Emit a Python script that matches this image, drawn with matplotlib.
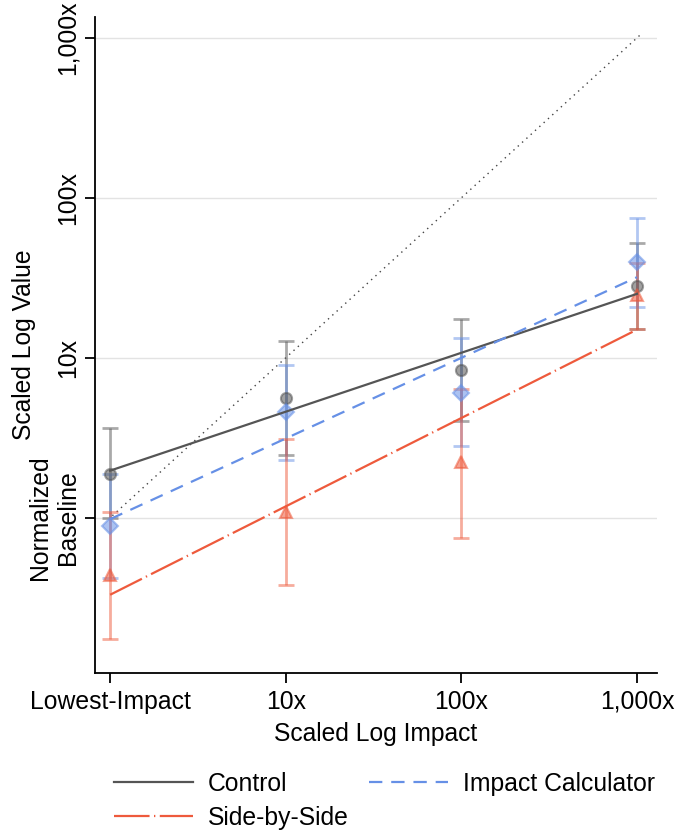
import matplotlib
matplotlib.use("Agg")
from matplotlib import pyplot as plt
import numpy as np

plt.rcParams['font.family'] = ['Liberation Sans', 'DejaVu Sans']

# x positions (scaled log impact)
impact_x = [1, 10, 100, 1000]
x_ticklabels = ['Lowest-Impact', '10x', '100x', '1,000x']

# y ticks
y_ticks = [1, 10, 100, 1000]
y_ticklabels = ['Normalized\nBaseline', '10x', '100x', '1,000x']

# group means and 95% intervals
control_mean = [1.88, 5.57, 8.33, 27.9]
control_lo = [0.99, 2.47, 4.0, 15.1]
control_hi = [3.65, 12.8, 17.6, 52.5]

calc_mean = [0.89, 4.55, 6.02, 39.6]
calc_lo = [0.42, 2.30, 2.79, 20.9]
calc_hi = [1.88, 8.95, 13.3, 74.7]

sbs_mean = [0.44, 1.09, 2.22, 24.8]
sbs_lo = [0.175, 0.381, 0.746, 15.1]
sbs_hi = [1.09, 3.10, 6.37, 39.1]

# fitted lines (endpoints at x=1 and x=1000)
fit_x = [1, 1000]
control_fit = [1.97, 25.1]
calc_fit = [0.98, 31.9]
sbs_fit = [0.33, 15.0]

# 45 degree reference line
ref_x = [1.03, 1070]
ref_y = [1.03, 1070]

c_gray = '#555555'
c_blue = '#6690E6'
c_red = '#EE5A3C'

fs = 17.8

fig = plt.figure(figsize=(6.75, 8.3), dpi=100)
ax = fig.add_axes([95 / 675, 1 - 673 / 830, (657 - 95) / 675, (673 - 17) / 830])
ax.set_xscale('log')
ax.set_yscale('log')

for yv in y_ticks:
    ax.axhline(yv, color='#e3e3e3', lw=1.0, zorder=0)

ax.plot(ref_x, ref_y, color='#444444', lw=1.0, linestyle=(0, (1, 3.2)), zorder=1)


def draw_group(mean, lo, hi, color, marker, ms):
    mean = np.array(mean)
    err = [mean - np.array(lo), np.array(hi) - mean]
    ax.errorbar(impact_x, mean, yerr=err, fmt='none', ecolor=color, alpha=0.5,
                elinewidth=2.0, capsize=6, capthick=2.0, zorder=2)
    ax.plot(impact_x, mean, linestyle='none', marker=marker, ms=ms,
            color=color, alpha=0.55, mew=1.5, zorder=3)


draw_group(control_mean, control_lo, control_hi, c_gray, 'o', 8)
draw_group(calc_mean, calc_lo, calc_hi, c_blue, 'D', 8.5)
draw_group(sbs_mean, sbs_lo, sbs_hi, c_red, '^', 9)

l_ctrl, = ax.plot(fit_x, control_fit, color=c_gray, lw=1.6, zorder=4, label='Control')
l_sbs, = ax.plot(fit_x, sbs_fit, color=c_red, lw=1.6, zorder=4, label='Side-by-Side',
                 dashes=(16, 2, 0.6, 2))
l_calc, = ax.plot(fit_x, calc_fit, color=c_blue, lw=1.6, zorder=4, label='Impact Calculator',
                  dashes=(6, 4))

ax.set_xlim(0.82, 1300)
ax.set_ylim(0.107, 1350)
ax.set_xticks(impact_x)
ax.set_xticklabels(x_ticklabels, fontsize=fs)
ax.set_yticks(y_ticks)
ax.set_yticklabels(y_ticklabels, fontsize=fs, rotation=90, va='center', ha='right',
                   multialignment='center')
ax.minorticks_off()
ax.tick_params(axis='both', length=7, width=1.3, color='black', pad=5)
ax.tick_params(axis='y', pad=4)

ax.spines['top'].set_visible(False)
ax.spines['right'].set_visible(False)
ax.spines['left'].set_linewidth(1.3)
ax.spines['bottom'].set_linewidth(1.3)

ax.set_xlabel('Scaled Log Impact', fontsize=17.7, labelpad=6)
ax.set_ylabel('Scaled Log Value', fontsize=17.7)
ax.yaxis.set_label_coords((36 - 95) / 562, 0.5)

fig.legend(handles=[l_ctrl, l_sbs, l_calc], ncol=2, frameon=False, fontsize=fs,
           loc='upper left', bbox_to_anchor=(114 / 675, 1 - 772 / 830),
           borderpad=0, borderaxespad=0, handlelength=3.2, handletextpad=0.6,
           columnspacing=0.8, labelspacing=0.4)

fig.savefig('out.png', dpi=100)
